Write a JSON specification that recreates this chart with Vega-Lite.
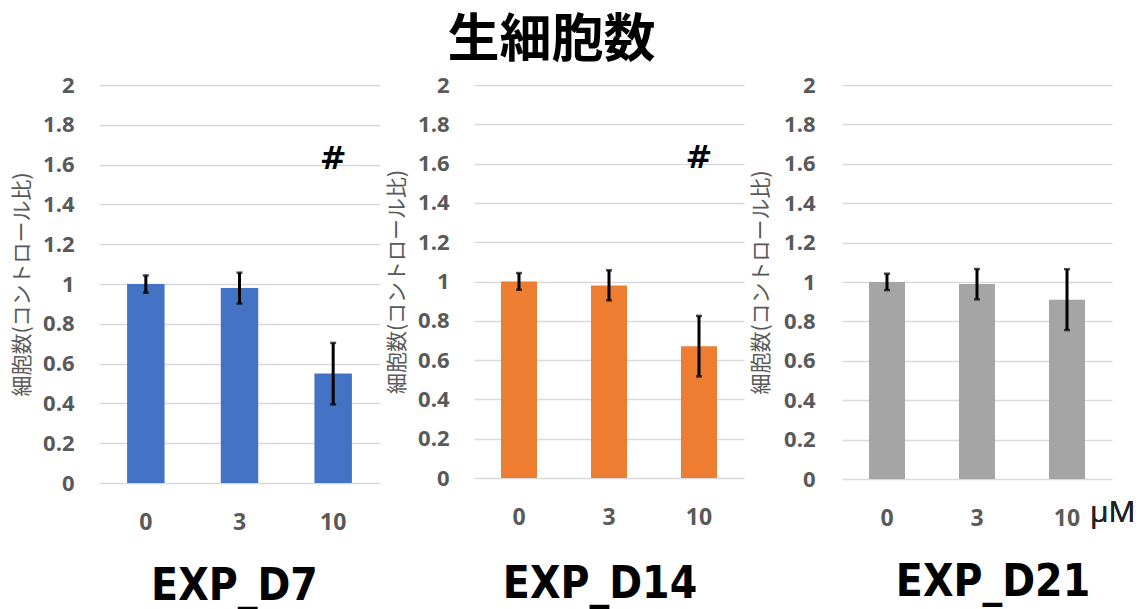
{
  "$schema": "https://vega.github.io/schema/vega-lite/v6.json",
  "padding": {"left": 11, "top": 15, "right": 0, "bottom": 0},
  "background": "#ffffff",
  "title": {
    "text": "生細胞数",
    "font": "Noto Sans CJK JP",
    "fontSize": 52,
    "fontWeight": "bold",
    "color": "#000000",
    "anchor": "middle",
    "offset": 6,
    "dx": -22
  },
  "config": {
    "view": {"stroke": null},
    "axisY": {
      "grid": true,
      "gridColor": "#D9D9D9",
      "gridWidth": 1.3,
      "domain": false,
      "ticks": false,
      "labelOverlap": false,
      "labelFont": "Open Sans",
      "labelFontSize": 22,
      "labelFontWeight": "bold",
      "labelColor": "#595959",
      "labelPadding": 25,
      "titleFont": "Noto Sans CJK JP",
      "titleFontSize": 21,
      "titleFontWeight": "normal",
      "titleColor": "#595959",
      "titlePadding": 10
    },
    "axisX": {
      "domain": false,
      "ticks": false,
      "grid": false,
      "labelAngle": 0,
      "labelFont": "Open Sans",
      "labelFontSize": 23,
      "labelFontWeight": "bold",
      "labelColor": "#595959",
      "labelPadding": 28,
      "title": null
    },
    "title": {
      "font": "DejaVu Sans Condensed",
      "fontWeight": "bold",
      "color": "#000000"
    }
  },
  "datasets": {
    "cells": [
      {"exp": "EXP_D7", "dose": "0", "ratio": 1.0, "lo": 0.956, "hi": 1.043, "sig": ""},
      {"exp": "EXP_D7", "dose": "3", "ratio": 0.98, "lo": 0.902, "hi": 1.057, "sig": ""},
      {"exp": "EXP_D7", "dose": "10", "ratio": 0.55, "lo": 0.395, "hi": 0.704, "sig": "#"},
      {"exp": "EXP_D14", "dose": "0", "ratio": 1.0, "lo": 0.958, "hi": 1.043, "sig": ""},
      {"exp": "EXP_D14", "dose": "3", "ratio": 0.98, "lo": 0.904, "hi": 1.057, "sig": ""},
      {"exp": "EXP_D14", "dose": "10", "ratio": 0.67, "lo": 0.517, "hi": 0.825, "sig": "#"},
      {"exp": "EXP_D21", "dose": "0", "ratio": 1.0, "lo": 0.959, "hi": 1.042, "sig": ""},
      {"exp": "EXP_D21", "dose": "3", "ratio": 0.99, "lo": 0.912, "hi": 1.066, "sig": ""},
      {"exp": "EXP_D21", "dose": "10", "ratio": 0.91, "lo": 0.756, "hi": 1.065, "sig": ""}
    ]
  },
  "spacing": 6,
  "hconcat": [
    {
      "width": 281,
      "height": 398,
      "data": {"name": "cells"},
      "transform": [{"filter": "datum.exp === 'EXP_D7'"}],
      "title": {"text": "EXP_D7", "orient": "bottom", "fontSize": 44, "offset": 31, "dx": -5},
      "encoding": {
        "x": {"field": "dose", "type": "nominal", "sort": ["0", "3", "10"],
              "scale": {"paddingInner": 0.6, "paddingOuter": 0.3}}
      },
      "layer": [
        {
          "mark": {"type": "bar", "color": "#4472C4"},
          "encoding": {
            "y": {"field": "ratio", "type": "quantitative", "scale": {"domain": [0, 2]},
                  "title": "細胞数(コントロール比)",
                  "axis": {"values": [0, 0.2, 0.4, 0.6, 0.8, 1, 1.2, 1.4, 1.6, 1.8, 2], "format": "~g", "labelOverlap": false}}
          }
        },
        {
          "mark": {"type": "errorbar", "color": "#000000", "thickness": 3,
                   "ticks": {"size": 6, "thickness": 2.5, "color": "#000000"}},
          "encoding": {
            "y": {"field": "lo", "type": "quantitative", "title": "細胞数(コントロール比)",
                  "axis": {"values": [0, 0.2, 0.4, 0.6, 0.8, 1, 1.2, 1.4, 1.6, 1.8, 2], "format": "~g", "labelOverlap": false}},
            "y2": {"field": "hi"}
          }
        },
        {
          "transform": [{"filter": "datum.sig !== ''"}],
          "mark": {"type": "text", "font": "DejaVu Sans", "fontWeight": "bold", "fontSize": 32,
                   "color": "#000000", "baseline": "middle"},
          "encoding": {
            "y": {"datum": 1.63, "type": "quantitative", "title": "細胞数(コントロール比)",
                  "axis": {"values": [0, 0.2, 0.4, 0.6, 0.8, 1, 1.2, 1.4, 1.6, 1.8, 2], "format": "~g", "labelOverlap": false}},
            "text": {"field": "sig"}
          }
        }
      ]
    },
    {
      "width": 270,
      "height": 393,
      "data": {"name": "cells"},
      "transform": [{"filter": "datum.exp === 'EXP_D14'"}],
      "title": {"text": "EXP_D14", "orient": "bottom", "fontSize": 44, "offset": 34, "dx": -9},
      "encoding": {
        "x": {"field": "dose", "type": "nominal", "sort": ["0", "3", "10"],
              "scale": {"paddingInner": 0.6, "paddingOuter": 0.3}}
      },
      "layer": [
        {
          "mark": {"type": "bar", "color": "#ED7D31"},
          "encoding": {
            "y": {"field": "ratio", "type": "quantitative", "scale": {"domain": [0, 2]},
                  "title": "細胞数(コントロール比)",
                  "axis": {"values": [0, 0.2, 0.4, 0.6, 0.8, 1, 1.2, 1.4, 1.6, 1.8, 2], "format": "~g", "labelOverlap": false}}
          }
        },
        {
          "mark": {"type": "errorbar", "color": "#000000", "thickness": 3,
                   "ticks": {"size": 6, "thickness": 2.5, "color": "#000000"}},
          "encoding": {
            "y": {"field": "lo", "type": "quantitative", "title": "細胞数(コントロール比)",
                  "axis": {"values": [0, 0.2, 0.4, 0.6, 0.8, 1, 1.2, 1.4, 1.6, 1.8, 2], "format": "~g", "labelOverlap": false}},
            "y2": {"field": "hi"}
          }
        },
        {
          "transform": [{"filter": "datum.sig !== ''"}],
          "mark": {"type": "text", "font": "DejaVu Sans", "fontWeight": "bold", "fontSize": 32,
                   "color": "#000000", "baseline": "middle"},
          "encoding": {
            "y": {"datum": 1.63, "type": "quantitative", "title": "細胞数(コントロール比)",
                  "axis": {"values": [0, 0.2, 0.4, 0.6, 0.8, 1, 1.2, 1.4, 1.6, 1.8, 2], "format": "~g", "labelOverlap": false}},
            "text": {"field": "sig"}
          }
        }
      ]
    },
    {
      "width": 270,
      "height": 394,
      "data": {"name": "cells"},
      "transform": [{"filter": "datum.exp === 'EXP_D21'"}],
      "title": {"text": "EXP_D21", "orient": "bottom", "fontSize": 44, "offset": 31, "dx": 16},
      "encoding": {
        "x": {"field": "dose", "type": "nominal", "sort": ["0", "3", "10"],
              "scale": {"paddingInner": 0.6, "paddingOuter": 0.3}}
      },
      "layer": [
        {
          "mark": {"type": "bar", "color": "#A5A5A5"},
          "encoding": {
            "y": {"field": "ratio", "type": "quantitative", "scale": {"domain": [0, 2]},
                  "title": "細胞数(コントロール比)",
                  "axis": {"values": [0, 0.2, 0.4, 0.6, 0.8, 1, 1.2, 1.4, 1.6, 1.8, 2], "format": "~g", "labelOverlap": false,
                           "labelPadding": 27, "titlePadding": 12}}
          }
        },
        {
          "mark": {"type": "errorbar", "color": "#000000", "thickness": 3,
                   "ticks": {"size": 6, "thickness": 2.5, "color": "#000000"}},
          "encoding": {
            "y": {"field": "lo", "type": "quantitative", "title": "細胞数(コントロール比)",
                  "axis": {"values": [0, 0.2, 0.4, 0.6, 0.8, 1, 1.2, 1.4, 1.6, 1.8, 2], "format": "~g", "labelOverlap": false,
                           "labelPadding": 27, "titlePadding": 12}},
            "y2": {"field": "hi"}
          }
        },
        {
          "mark": {"type": "text", "text": "μM", "font": "Open Sans", "fontSize": 30,
                   "color": "#222222", "align": "left", "baseline": "top", "dx": 23, "dy": 19},
          "encoding": {
            "x": {"datum": "10"},
            "y": {"datum": 0, "type": "quantitative", "title": "細胞数(コントロール比)",
                  "axis": {"values": [0, 0.2, 0.4, 0.6, 0.8, 1, 1.2, 1.4, 1.6, 1.8, 2], "format": "~g", "labelOverlap": false,
                           "labelPadding": 27, "titlePadding": 12}}
          }
        }
      ]
    }
  ]
}
